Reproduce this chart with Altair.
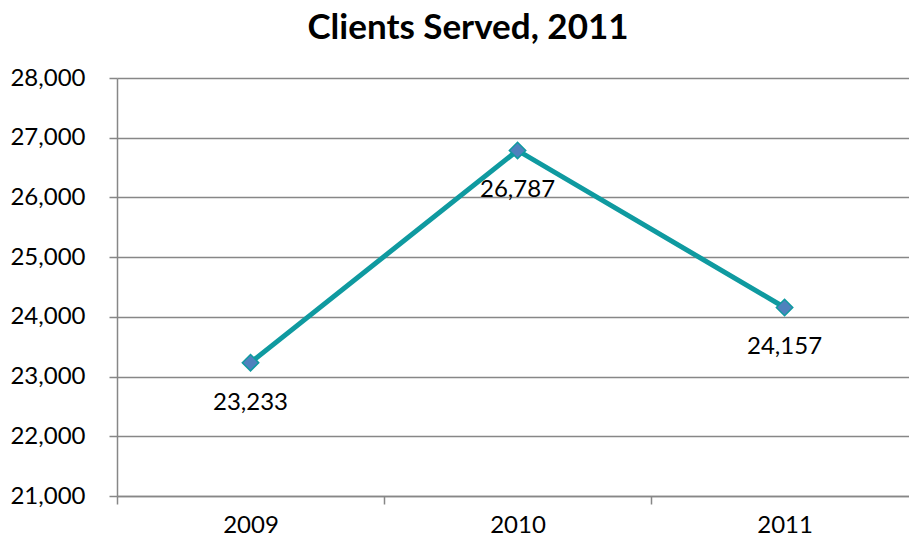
import altair as alt
import pandas as pd

# Clients served per year
years = ["2009", "2010", "2011"]
clients = [23233, 26787, 24157]

# Each year sits in the middle of its own category slot (slot i spans [i, i+1])
slot_centers = [i + 0.5 for i in range(len(years))]
y_ticks = list(range(21000, 28001, 1000))

df = pd.DataFrame({"year": years, "clients": clients, "pos": slot_centers})

LINE = "#0f9aa0"
MARKER = "#4f81bd"
GRID = "#878787"
FONT = "Lato"
FS = 24

# Label expression mapping slot centres to year names; slot boundaries stay blank
label_expr = " : ".join(
    f"datum.value == {c} ? '{y}'" for c, y in zip(slot_centers, years)
) + " : ''"

axis_values = sorted(set([float(i) for i in range(len(years))] + slot_centers))

x = alt.X(
    "pos:Q",
    scale=alt.Scale(domain=[0, 2.966], nice=False, zero=False),
    axis=alt.Axis(
        values=axis_values,
        labelExpr=label_expr,
        title=None,
        grid=False,
        domainColor=GRID,
        domainWidth=1.5,
        tickColor=GRID,
        tickWidth=1.5,
        tickSize=8,
        tickOpacity={"condition": {"test": "datum.value % 1 === 0", "value": 1}, "value": 0},
        labelFont=FONT,
        labelFontSize=FS,
        labelColor="#000000",
        labelPadding=9,
        labelOverlap=False,
    ),
)

y = alt.Y(
    "clients:Q",
    scale=alt.Scale(domain=[21000, 28000], nice=False, zero=False),
    axis=alt.Axis(
        values=y_ticks,
        format=",.0f",
        title=None,
        grid=True,
        gridColor=GRID,
        gridWidth=1.5,
        domainColor=GRID,
        domainWidth=1.5,
        tickColor=GRID,
        tickWidth=1.5,
        tickSize=8,
        labelFont=FONT,
        labelFontSize=FS,
        labelColor="#000000",
        labelPadding=24,
    ),
)

base = alt.Chart(df).encode(x=x, y=y)

line = base.mark_line(color=LINE, strokeWidth=5)
points = base.mark_point(
    shape="diamond", filled=True, size=270, fill=MARKER, stroke=LINE,
    strokeWidth=1.5, opacity=1,
)
labels = base.mark_text(
    dy=40, font=FONT, fontSize=FS, color="#000000"
).encode(text=alt.Text("clients:Q", format=",.0f"))

chart = (
    alt.layer(line, points, labels)
    .properties(
        width=792,
        height=418,
        padding={"left": 117, "top": 78, "right": 0, "bottom": 45},
        autosize=alt.AutoSizeParams(type="none"),
        background="#ffffff",
        title=alt.TitleParams(
            "Clients Served, 2011",
            font=FONT,
            fontSize=35,
            fontWeight="bold",
            color="#000000",
            anchor="middle",
            frame="group",
            baseline="alphabetic",
            offset=-8,
            dx=-45,
        ),
    )
    .configure_view(stroke=None)
)

chart.save("out.html", embed_options={"renderer": "svg", "actions": False})
